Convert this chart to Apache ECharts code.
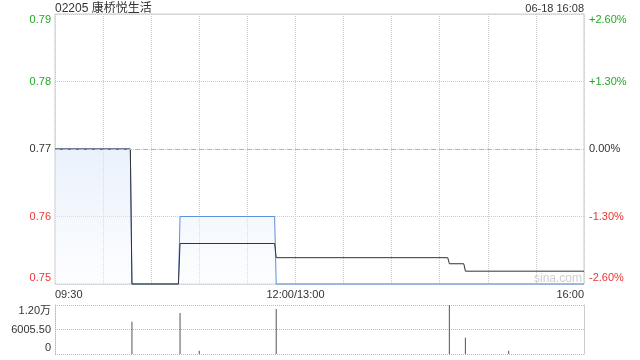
<!DOCTYPE html>
<html><head><meta charset="utf-8">
<script src="https://cdn.jsdelivr.net/npm/echarts@6/dist/echarts.min.js"></script>
<style>html,body{margin:0;padding:0;background:#fff}#c{width:640px;height:360px}</style>
</head><body><div id="c"></div>
<script>
const titleText = '02205 康桥悦生活';
const dateText = '06-18 16:08';
const watermark = 'sina.com';
const priceTimes = ['09:30','10:17','10:18','10:47','10:48','11:47','11:48','16:00'];
const priceValues = [0.77,0.77,0.75,0.75,0.76,0.76,0.75,0.75];
const avgTimes = ['09:30','10:17','10:18','10:47','10:48','11:47','11:48','14:35','14:36','14:45','14:46','16:00'];
const avgValues = [0.77,0.77,0.75,0.75,0.756,0.756,0.7539,0.7539,0.7530,0.7530,0.7519,0.7519];
const volTimes = ['10:18','10:48','11:00','11:48','14:36','14:46','15:13'];
const volValues = [7900,10050,800,11030,12011,4000,800];
const prevClose = 0.77;
const priceTicks = ['0.75','0.76','0.77','0.78','0.79'];
const pctTicks = ['-2.60%','-1.30%','0.00%','+1.30%','+2.60%'];
const volTicks = ['0','6005.50','1.20万'];
const timeLabelTimes = ['09:30','12:00','16:00'];
const timeLabelTexts = ['09:30','12:00/13:00','16:00'];

function toMin(t){
  const [h,m] = t.split(':').map(Number);
  const mm = h*60+m;
  if (mm <= 12*60) return mm - (9*60+30);
  return 150 + (mm - 13*60);
}
const pair = (ts, vs) => ts.map((t,i)=>[toMin(t), vs[i]]);

const FONT = 'Arial, "Liberation Sans", "Noto Sans CJK SC", sans-serif';
const GREEN = '#22aa22', RED = '#ee3333', DARK = '#333333';
const PAD = 12;
function richSet(){
  const r = {};
  [['g',GREEN],['r',RED],['k',DARK]].forEach(([n,c])=>{
    r[n] = {color:c, fontSize:11, fontFamily:FONT};
    r[n+'T'] = {color:c, fontSize:11, fontFamily:FONT, padding:[PAD,0,0,0]};
    r[n+'B'] = {color:c, fontSize:11, fontFamily:FONT, padding:[0,0,PAD,0]};
  });
  return r;
}
function wrap(txt, idx, n, colorKey){
  const pos = idx===0 ? 'B' : (idx===n-1 ? 'T' : '');
  return '{' + colorKey + pos + '|' + txt + '}';
}
function colorFor(i, n){ const mid=(n-1)/2; return i>mid?'g':(i<mid?'r':'k'); }

const chart = echarts.init(document.getElementById('c'), null, {renderer:'canvas'});
const xLabelMap = {};
timeLabelTimes.forEach((t,i)=>{ xLabelMap[toMin(t)] = timeLabelTexts[i]; });

chart.setOption({
  animation:false,
  backgroundColor:'#fff',
  textStyle:{fontFamily:FONT},
  title:[
    {text:titleText, left:50, top:-2, textStyle:{fontSize:12, fontWeight:'normal', color:DARK, fontFamily:FONT}},
    {text:dateText, right:51, top:-2, textStyle:{fontSize:11, fontWeight:'normal', color:DARK, fontFamily:FONT}}
  ],
  graphic:[{type:'text', right:58, top:273, silent:true, style:{text:watermark, fill:'#cfcfcf', font:'12px Arial, "Liberation Sans"'}}],
  grid:[
    {left:55, right:56, top:14, height:270, show:true, borderColor:'#cccccc', borderWidth:1, backgroundColor:'transparent'},
    {left:55, right:56, top:305, height:49, show:false}
  ],
  xAxis:[
    {type:'value', gridIndex:0, min:0, max:330, interval:30,
     axisLine:{show:false}, axisTick:{show:false},
     splitLine:{show:true, lineStyle:{color:'#cccccc', type:'dotted', width:1}},
     axisLabel:{show:true, margin:5, fontSize:11, color:DARK, fontFamily:FONT,
       alignMinLabel:'left', alignMaxLabel:'right', showMinLabel:true, showMaxLabel:true,
       formatter:(v)=> (xLabelMap[Math.round(v)] || '')}},
    {type:'value', gridIndex:1, min:0, max:330, interval:30,
     axisLine:{show:false}, axisTick:{show:false}, axisLabel:{show:false}, splitLine:{show:false}}
  ],
  yAxis:[
    {type:'value', gridIndex:0, min:0.75, max:0.79, interval:0.01, position:'left',
     axisLine:{show:false}, axisTick:{show:false},
     splitLine:{show:true, lineStyle:{color:'#cccccc', type:'dotted'}},
     axisLabel:{margin:4, rich:richSet(),
       formatter:(v)=>{ const i=Math.round((v-0.75)/0.01); return wrap(priceTicks[i], i, priceTicks.length, colorFor(i, priceTicks.length)); }}},
    {type:'value', gridIndex:0, min:-2.6, max:2.6, interval:1.3, position:'right',
     axisLine:{show:false}, axisTick:{show:false}, splitLine:{show:false},
     axisLabel:{margin:5, rich:richSet(),
       formatter:(v)=>{ const i=Math.round((v+2.6)/1.3); return wrap(pctTicks[i], i, pctTicks.length, colorFor(i, pctTicks.length)); }}},
    {type:'value', gridIndex:1, min:0, max:12011, interval:6005.5, position:'left',
     axisLine:{show:true, lineStyle:{color:'#bbbbbb', type:'dotted'}}, axisTick:{show:false},
     splitLine:{show:true, lineStyle:{color:'#bbbbbb', type:'dotted'}},
     axisLabel:{margin:4, rich:richSet(),
       formatter:(v)=>{ const i=Math.round(v/6005.5); return wrap(volTicks[i], i, volTicks.length, 'k'); }}},
    {type:'value', gridIndex:1, min:0, max:12011, interval:6005.5, position:'right',
     axisLine:{show:true, lineStyle:{color:'#cccccc'}}, axisTick:{show:false},
     axisLabel:{show:false}, splitLine:{show:false}}
  ],
  series:[
    {type:'line', xAxisIndex:0, yAxisIndex:0, data:pair(priceTimes, priceValues),
     symbol:'none', clip:false, lineStyle:{color:'#5b8fdf', width:1},
     areaStyle:{origin:'start', color:new echarts.graphic.LinearGradient(0,0,0,1,[
       {offset:0, color:'rgba(214,228,248,0.75)'},{offset:1, color:'rgba(246,249,255,0.5)'}])},
     markLine:{silent:true, symbol:'none', label:{show:false},
       lineStyle:{color:'#f2a46e', type:[5,3], width:1},
       data:[{yAxis:prevClose}]}, z:2},
    {type:'line', xAxisIndex:0, yAxisIndex:0, data:pair(avgTimes, avgValues),
     symbol:'none', clip:false, lineStyle:{color:'#333333', width:1}, z:3},
    {type:'bar', xAxisIndex:1, yAxisIndex:2, data:pair(volTimes, volValues),
     barWidth:1, itemStyle:{color:'#555555'}}
  ]
});
</script></body></html>
